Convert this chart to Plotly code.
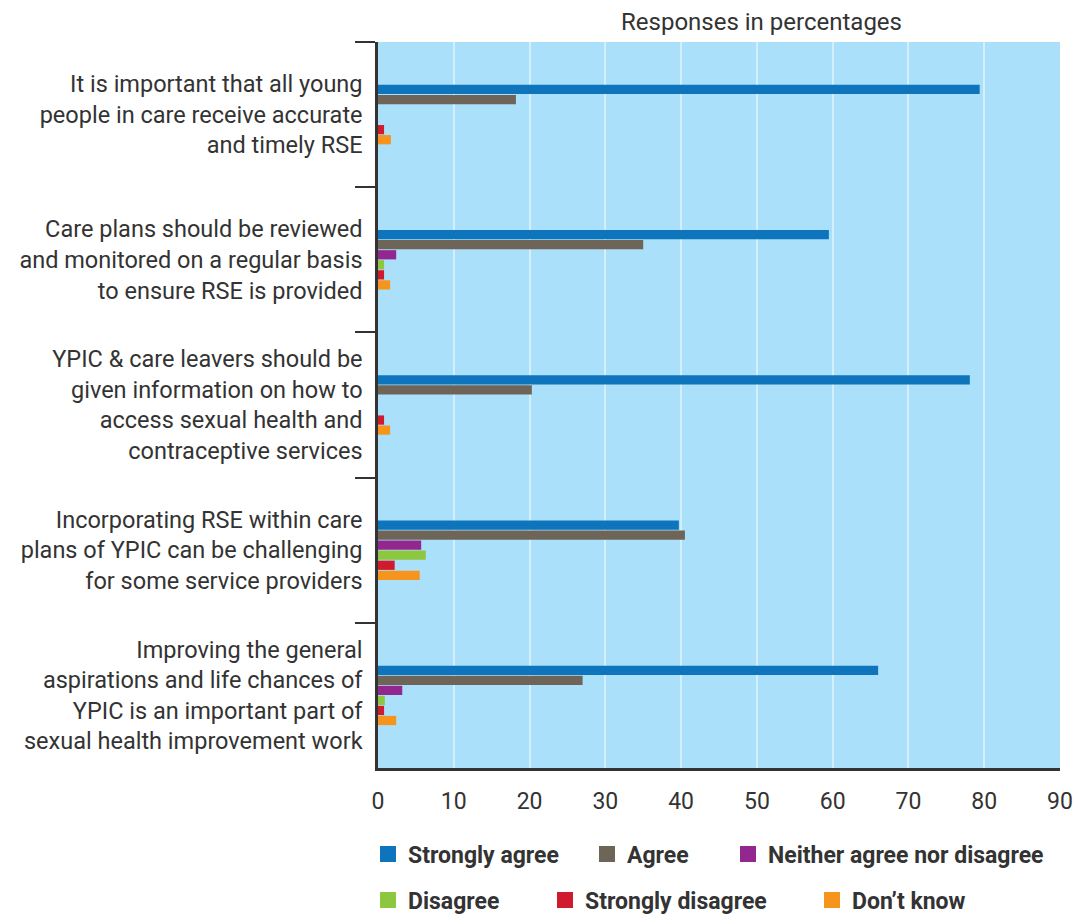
import plotly.graph_objects as go

categories = [
    "It is important that all young<br>people in care receive accurate<br>and timely RSE",
    "Care plans should be reviewed<br>and monitored on a regular basis<br>to ensure RSE is provided",
    "YPIC &amp; care leavers should be<br>given information on how to<br>access sexual health and<br>contraceptive services",
    "Incorporating RSE within care<br>plans of YPIC can be challenging<br>for some service providers",
    "Improving the general<br>aspirations and life chances of<br>YPIC is an important part of<br>sexual health improvement work",
]

series_names = ["Strongly agree", "Agree", "Neither agree nor disagree",
                "Disagree", "Strongly disagree", "Don\u2019t know"]

strongly_agree = [79.4, 59.5, 78.1, 39.7, 66.0]
agree = [18.2, 35.0, 20.3, 40.5, 27.0]
neither = [0, 2.4, 0, 5.7, 3.2]
disagree = [0, 0.8, 0, 6.3, 0.9]
strongly_disagree = [0.8, 0.8, 0.8, 2.2, 0.8]
dont_know = [1.7, 1.6, 1.6, 5.5, 2.4]

series_values = [strongly_agree, agree, neither, disagree, strongly_disagree, dont_know]
colors = ["#0e74bb", "#6e6457", "#92278f", "#8dc63f", "#d01a2d", "#f7941d"]

x_ticks = list(range(0, 91, 10))

W, H = 1075, 916
L, T = 378, 42
R = W - 1060
B = H - 768
PH = H - T - B
TXT = "#333333"

fig = go.Figure()
for name, vals, col in zip(series_names, series_values, colors):
    fig.add_trace(go.Bar(
        y=categories, x=vals, name=name, orientation="h",
        marker=dict(color=col, line=dict(width=0)),
        showlegend=False,
    ))

# legend entries (one legend per entry for free placement); px of symbol centres
legend_pos = [(387, 854), (606, 854), (747, 854), (387, 900), (564, 900), (831, 900)]
legend_keys = ["legend", "legend2", "legend3", "legend4", "legend5", "legend6"]
for name, col, key in zip(series_names, colors, legend_keys):
    fig.add_trace(go.Scatter(
        x=[None], y=[None], mode="markers", name=name,
        marker=dict(symbol="square", size=19, color=col),
        legend=key, showlegend=True,
    ))

legend_layout = {}
for (px, py), key in zip(legend_pos, legend_keys):
    legend_layout[key] = dict(
        x=(px - 19) / W, xref="container", xanchor="left",
        y=1 - py / H, yref="container", yanchor="middle",
        orientation="h", bgcolor="rgba(0,0,0,0)", borderwidth=0,
        itemsizing="trace",
        font=dict(family="Roboto", size=23, color=TXT, weight="bold"),
    )

fig.update_layout(
    width=W, height=H,
    margin=dict(l=L, r=R, t=T, b=B, autoexpand=False),
    paper_bgcolor="white",
    plot_bgcolor="#aae0fa",
    barmode="group",
    bargap=0.585,
    bargroupgap=0.08,
    font=dict(family="Roboto", color=TXT),
    **legend_layout,
)

fig.update_xaxes(
    range=[0, 90], tickvals=x_ticks, ticktext=[str(v) for v in x_ticks],
    showgrid=True, gridcolor="#d4effc", gridwidth=2,
    zeroline=False, showline=True, linecolor="#333333", linewidth=2.5,
    ticks="", ticklabelstandoff=11, tickfont=dict(size=23, color=TXT),
)
fig.update_yaxes(
    autorange="reversed", type="category",
    tickson="boundaries", ticks="outside", ticklen=20, tickwidth=2,
    tickcolor="#333333", showline=True, linecolor="#333333", linewidth=2.5,
    showgrid=False, ticklabelstandoff=8, tickfont=dict(size=23.5, color=TXT),
)

fig.add_annotation(
    text="Responses in percentages", xref="paper", yref="paper",
    x=(761 - L) / (W - L - R), y=(H - B - 22) / PH,
    xanchor="center", yanchor="middle",
    showarrow=False, font=dict(size=24, color=TXT),
)

fig.write_html(
    "out.html",
    config={"displayModeBar": False},
    post_script="document.body.style.margin='0';document.body.style.overflow='hidden';",
)
